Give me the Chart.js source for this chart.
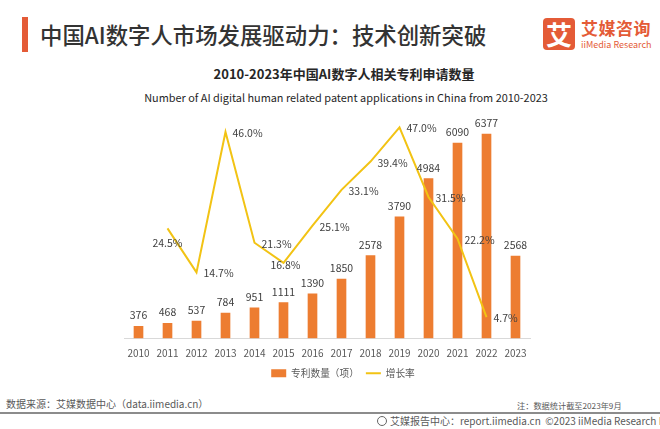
<!DOCTYPE html>
<html>
<head>
<meta charset="utf-8">
<script src="https://cdn.jsdelivr.net/npm/chart.js@4.4.0/dist/chart.umd.min.js"></script>
<style>
  body { margin: 0; width: 660px; height: 429px; background: #fff; overflow: hidden; position: relative;
         font-family: "Noto Sans CJK SC", "Noto Sans", sans-serif; color: #333; }
  .abs { position: absolute; white-space: nowrap; }
  #bar { left: 22px; top: 17px; width: 6px; height: 35px; background: #e45b37; }
  #title { left: 40px; top: 19px; font-size: 22.4px; line-height: 30px; font-weight: 500; color: #333; }
  #logo { left: 543px; top: 18px; width: 32px; height: 32px; background: #e45b37; border-radius: 4px;
          color: #fff; font-size: 26px; line-height: 32px; text-align: center; font-weight: 700; }
  #brand { left: 581px; top: 17px; font-size: 17px; line-height: 22px; color: #e45b37; font-weight: 700; letter-spacing: 0.5px; }
  #brandEn { left: 581px; top: 39px; font-size: 9px; line-height: 11px; color: #e45b37; }
  #sub1 { left: 0; width: 688px; top: 65px; text-align: center; font-size: 13px; line-height: 18px; font-weight: 700; color: #262626; }
  #sub2 { left: 0; width: 692px; top: 88px; text-align: center; font-size: 10.9px; line-height: 18px; color: #262626; }
  #src { left: 6px; top: 397px; font-size: 10px; line-height: 14px; color: #595959; }
  #note { left: 517px; top: 399px; font-size: 8.2px; line-height: 12px; color: #595959; }
  #rule { left: 0; top: 412px; width: 660px; height: 1.5px; background: #8c8c8c; }
  #foot { left: 390px; top: 414px; font-size: 10px; line-height: 14px; color: #595959; }
  #icon { left: 377px; top: 416px; width: 8px; height: 8px; border: 1.5px solid #666; border-radius: 50%; }
  #wrap { left: 124px; top: 100px; width: 438px; height: 288px; }
</style>
</head>
<body>
<div class="abs" id="bar"></div>
<div class="abs" id="title">中国AI数字人市场发展驱动力：技术创新突破</div>
<div class="abs" id="logo">艾</div>
<div class="abs" id="brand">艾媒咨询</div>
<div class="abs" id="brandEn">iiMedia Research</div>
<div class="abs" id="sub1">2010-2023年中国AI数字人相关专利申请数量</div>
<div class="abs" id="sub2">Number of AI digital human related patent applications in China from 2010-2023</div>
<div class="abs" id="wrap"><canvas id="chart" width="438" height="288"></canvas></div>
<div class="abs" id="src">数据来源：艾媒数据中心（data.iimedia.cn）</div>
<div class="abs" id="note">注：数据统计截至2023年9月</div>
<div class="abs" id="rule"></div>
<div class="abs" id="icon"></div>
<div class="abs" id="foot">艾媒报告中心：report.iimedia.cn &nbsp;©2023 iiMedia Research Inc</div>

<script>
const years = ['2010', '2011', '2012', '2013', '2014', '2015', '2016', '2017', '2018', '2019', '2020', '2021', '2022', '2023'];
const patents = [376, 468, 537, 784, 951, 1111, 1390, 1850, 2578, 3790, 4984, 6090, 6377, 2568];
const growth = [null, 24.5, 14.7, 46.0, 21.3, 16.8, 25.1, 33.1, 39.4, 47.0, 31.5, 22.2, 4.7, null];
// where each growth label sits relative to its point
const growthLabelPos = [null, 'below', 'right', 'right', 'right', 'center', 'right', 'right', 'right', 'right', 'right', 'right', 'right', null];

const fontFamily = '"Noto Sans CJK SC", "Noto Sans", sans-serif';
const labelFont = '10.5px ' + fontFamily;

const valueLabels = {
  id: 'valueLabels',
  afterDatasetsDraw(chart) {
    const ctx = chart.ctx;
    ctx.save();
    ctx.font = labelFont;
    ctx.fillStyle = '#404040';
    ctx.textBaseline = 'middle';

    chart.getDatasetMeta(0).data.forEach((el, i) => {
      ctx.textAlign = 'center';
      ctx.fillText(String(patents[i]), el.x, el.y - 11);
    });

    chart.getDatasetMeta(1).data.forEach((el, i) => {
      if (growth[i] === null) return;
      const txt = growth[i].toFixed(1) + '%';
      const pos = growthLabelPos[i];
      if (pos === 'below') {
        ctx.textAlign = 'center';
        ctx.fillText(txt, el.x, el.y + 15);
      } else if (pos === 'center') {
        ctx.textAlign = 'center';
        ctx.fillText(txt, el.x + 2, el.y + 2);
      } else {
        ctx.textAlign = 'left';
        ctx.fillText(txt, el.x + 7, el.y + 1);
      }
    });
    ctx.restore();
  }
};

new Chart(document.getElementById('chart').getContext('2d'), {
  data: {
    labels: years,
    datasets: [{
      type: 'bar',
      label: '专利数量（项）',
      data: patents,
      backgroundColor: '#ed7d31',
      borderWidth: 0,
      barThickness: 9,
      pointStyle: 'rect',
      yAxisID: 'y',
      order: 1
    }, {
      type: 'line',
      label: '增长率',
      data: growth,
      borderColor: '#f2c314',
      backgroundColor: '#f2c314',
      borderWidth: 2,
      pointRadius: 0,
      tension: 0,
      pointStyle: 'line',
      yAxisID: 'y1',
      order: 0
    }]
  },
  options: {
    responsive: false,
    devicePixelRatio: 1,
    animation: false,
    layout: { padding: { top: 14, left: 0, right: 0, bottom: 0 } },
    scales: {
      x: {
        grid: { display: false, drawTicks: true, tickLength: 7 },
        border: { color: '#d9d9d9', width: 1 },
        ticks: { color: '#595959', padding: 3, font: { size: 10, lineHeight: 1, family: fontFamily } }
      },
      y: { display: false, min: 0, max: 7000 },
      // invisible right axis: only reserves room so the legend sits a bit right of the plot centre
      y1: {
        position: 'right', min: 0, max: 50,
        grid: { display: false }, border: { display: false }, ticks: { display: false },
        afterFit: (scale) => { scale.width = 32; }
      }
    },
    plugins: {
      legend: {
        position: 'bottom',
        labels: {
          usePointStyle: true,
          pointStyleWidth: 15,
          boxHeight: 8,
          padding: 7,
          color: '#595959',
          font: { size: 9.7, family: fontFamily },
          sort: (a, b) => a.datasetIndex - b.datasetIndex
        }
      },
      tooltip: { enabled: false }
    }
  },
  plugins: [valueLabels]
});
</script>
</body>
</html>
